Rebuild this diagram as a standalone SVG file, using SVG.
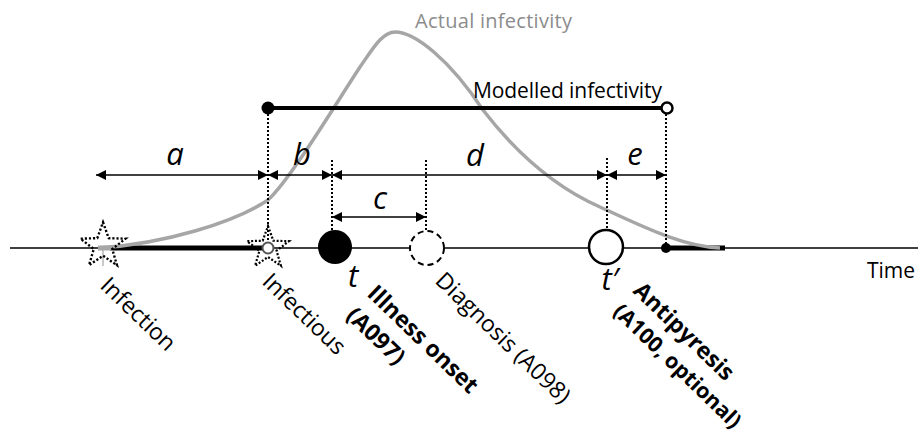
<svg xmlns="http://www.w3.org/2000/svg" width="921" height="441" viewBox="0 0 921 441">
<style>
text{font-family:"Open Sans","Liberation Sans",sans-serif;fill:#000}
.lbl{font-size:23px}
.b{font-weight:bold}
.it{font-family:"Open Sans","Liberation Sans",sans-serif;font-style:italic;font-size:31px}
.dim{stroke:#000;stroke-width:1.3;fill:none;marker-start:url(#ah);marker-end:url(#ah)}
.dot{stroke:#000;stroke-width:2;stroke-dasharray:2 2;fill:none}
.star{fill:none;stroke:#000;stroke-width:2.2;stroke-dasharray:2 1.8}
</style>
<defs>
<marker id="ah" viewBox="0 0 10 10" refX="10" refY="5" markerWidth="10" markerHeight="10" markerUnits="userSpaceOnUse" orient="auto-start-reverse">
<path d="M0,0 L10,5 L0,10 z" fill="#000"/>
</marker>
<path id="starShape" d="M0,-22 L5.29,-7.28 L20.92,-6.8 L8.56,2.78 L12.93,17.8 L0,9 L-12.93,17.8 L-8.56,2.78 L-20.92,-6.8 L-5.29,-7.28 Z"/>
</defs>
<rect width="921" height="441" fill="#fff"/>

<g id="timeline">
<line x1="10" y1="248" x2="918" y2="248" stroke="#000" stroke-width="1.3"/>
<line x1="110" y1="248" x2="264" y2="248" stroke="#000" stroke-width="5"/>
<line x1="666" y1="248" x2="725" y2="248" stroke="#000" stroke-width="5"/>
<text x="867" y="278" style="font-size:21px">Time</text>
</g>

<g id="actual-infectivity">
<path d="M98,248 C165,244 235,222 268,200 C290,180 335,105 360,67 C372,50 382,32 395,32 C415,32 450,60 483,110 C510,145 550,185 600,207 C640,225 680,246 720,248" fill="none" stroke="#a6a6a6" stroke-width="3.5"/>
<text x="415" y="28" style="font-size:20px;fill:#8c8c8c" textLength="157">Actual infectivity</text>
</g>

<g id="modelled-infectivity">
<line x1="268" y1="108" x2="661" y2="108" stroke="#000" stroke-width="4"/>
<circle cx="268" cy="108" r="6.5" fill="#000"/>
<circle cx="667" cy="108" r="5.5" fill="#fff" stroke="#000" stroke-width="2.5"/>
<text x="473" y="98" style="font-size:21px" textLength="189">Modelled infectivity</text>
</g>

<g id="connectors">
<line class="dot" x1="268" y1="114" x2="268" y2="242"/>
<line class="dot" x1="332" y1="160" x2="332" y2="230"/>
<line class="dot" x1="426" y1="160" x2="426" y2="231"/>
<line class="dot" x1="607" y1="158" x2="607" y2="229"/>
<line class="dot" x1="666" y1="114" x2="666" y2="244"/>
<line class="dim" x1="96" y1="175" x2="268" y2="175"/>
<line class="dim" x1="268" y1="175" x2="332" y2="175"/>
<line class="dim" x1="332" y1="175" x2="607" y2="175"/>
<line class="dim" x1="607" y1="175" x2="666" y2="175"/>
<line class="dim" x1="332" y1="217" x2="426" y2="217"/>
<text class="it" x="175" y="165" text-anchor="middle">a</text>
<text class="it" x="302" y="165" text-anchor="middle">b</text>
<text class="it" x="380" y="209" text-anchor="middle">c</text>
<text class="it" x="475" y="166" text-anchor="middle">d</text>
<text class="it" x="635" y="165" text-anchor="middle">e</text>
</g>

<g id="infection">
<line x1="98" y1="248" x2="112" y2="248" stroke="#a6a6a6" stroke-width="5"/>
<line x1="103" y1="248" x2="103" y2="266" stroke="#a6a6a6" stroke-width="1.2"/>
<use href="#starShape" class="star" transform="translate(103,246) scale(1.08)"/>
<text class="lbl" transform="translate(99,287) rotate(44)">Infection</text>
</g>

<g id="infectious">
<use href="#starShape" class="star" transform="translate(268,248)"/>
<circle cx="268" cy="248" r="5.5" fill="#fff" stroke="#555" stroke-width="2"/>
<text class="lbl" transform="translate(261,283) rotate(44)">Infectious</text>
</g>

<g id="illness-onset">
<circle cx="335" cy="247" r="17" fill="#000"/>
<text class="it" x="353" y="287" text-anchor="middle">t</text>
<text class="lbl b" transform="translate(366,295) rotate(44)">Illness onset</text>
<text class="lbl b" transform="translate(345,317) rotate(44)">(A097)</text>
</g>

<g id="diagnosis">
<circle cx="427" cy="248" r="17" fill="#fff" stroke="#000" stroke-width="2" stroke-dasharray="6 4"/>
<text class="lbl" transform="translate(434,282) rotate(44)">Diagnosis (A098)</text>
</g>

<g id="t-prime">
<circle cx="606" cy="247" r="17" fill="#fff" stroke="#000" stroke-width="2.5"/>
<text class="it" x="610" y="290" text-anchor="middle">t′</text>
</g>

<g id="antipyresis">
<circle cx="666" cy="248" r="5" fill="#000"/>
<text class="lbl b" transform="translate(632,292) rotate(44)">Antipyresis</text>
<text class="lbl b" style="font-size:21.5px" transform="translate(612,313) rotate(44)">(A100, optional)</text>
</g>
</svg>
